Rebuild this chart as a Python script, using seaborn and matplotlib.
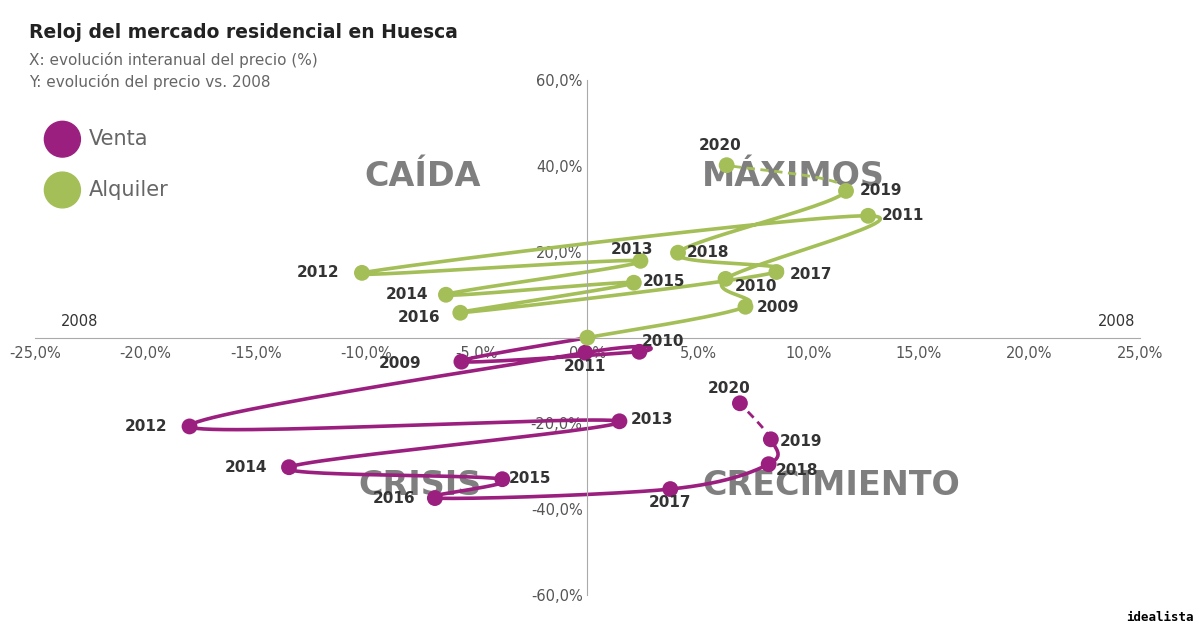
import numpy as np
import matplotlib
matplotlib.use("Agg")
import matplotlib.pyplot as plt
import seaborn as sns
import pandas as pd

years = list(range(2008, 2021))
venta_x = [0, -5.7, 2.35, -0.1, -18.0, 1.45, -13.5, -3.85, -6.9, 3.75, 8.2, 8.3, 6.9]
venta_y = [0, -5.6, -3.3, -3.5, -20.7, -19.5, -30.2, -33.0, -37.4, -35.3, -29.5, -23.7, -15.3]
alq_x = [0, 7.15, 6.25, 12.7, -10.2, 2.4, -6.4, 2.1, -5.75, 8.55, 4.1, 11.7, 6.3]
alq_y = [0, 7.2, 13.7, 28.4, 15.1, 17.9, 10.0, 12.8, 5.8, 15.3, 19.8, 34.2, 40.2]
xticks = [-25, -20, -15, -10, -5, 0, 5, 10, 15, 20, 25]
yticks = [-60, -40, -20, 20, 40, 60]

PURPLE = "#9b1f7f"
GREEN = "#a4bf57"

def catmull(xs, ys, n=30):
    P = np.column_stack([xs, ys]).astype(float)
    P = np.vstack([P[0], P, P[-1]])
    out = []
    for i in range(1, len(P) - 2):
        p0, p1, p2, p3 = P[i-1], P[i], P[i+1], P[i+2]
        t = np.linspace(0, 1, n)[:, None]
        seg = 0.5 * ((2*p1) + (-p0+p2)*t + (2*p0-5*p1+4*p2-p3)*t**2 + (-p0+3*p1-3*p2+p3)*t**3)
        out.append(seg)
    return out

fig = plt.figure(figsize=(12, 6.27), dpi=100)
ax = fig.add_axes([0.029, 0.051, 0.921, 0.821])
ax.set_xlim(-25, 25)
ax.set_ylim(-60, 60)

for xs, ys, col, skip in [(venta_x, venta_y, PURPLE, 1), (alq_x, alq_y, GREEN, 0)]:
    segs = catmull(xs, ys)
    solid = np.vstack(segs[:-1])
    ax.plot(solid[:, 0], solid[:, 1], color=col, lw=2.6, solid_capstyle="round", zorder=2)
    ax.plot(segs[-1][:, 0], segs[-1][:, 1], color=col, lw=2.0, ls=(0, (3, 2)), zorder=2)
    df = pd.DataFrame({"x": xs[skip:], "y": ys[skip:]})
    sns.scatterplot(data=df, x="x", y="y", color=col, s=130, edgecolor="none", ax=ax, zorder=3)

v_off = {2009: (-1.8, -0.5, "right"), 2010: (0.1, 2.4, "left"), 2011: (0.0, -3.2, "center"),
         2012: (-1.0, 0, "right"), 2013: (0.5, 0.5, "left"), 2014: (-1.0, 0, "right"),
         2015: (0.3, 0.2, "left"), 2016: (-0.9, -0.2, "right"), 2017: (0.0, -3.2, "center"),
         2018: (0.3, -1.5, "left"), 2019: (0.4, -0.4, "left"), 2020: (-0.5, 3.5, "center")}
a_off = {2009: (0.5, -0.2, "left"), 2010: (0.4, -1.8, "left"), 2011: (0.6, 0, "left"),
         2012: (-1.0, 0, "right"), 2013: (-0.4, 2.6, "center"), 2014: (-0.8, 0, "right"),
         2015: (0.4, 0.2, "left"), 2016: (-0.9, -1.0, "right"), 2017: (0.6, -0.5, "left"),
         2018: (0.4, 0, "left"), 2019: (0.6, 0, "left"), 2020: (-0.3, 4.5, "center")}
for i, yr in enumerate(years[1:], start=1):
    dx, dy, ha = v_off[yr]
    ax.text(venta_x[i]+dx, venta_y[i]+dy, str(yr), ha=ha, va="center", fontsize=11, fontweight="bold", color="#333333", zorder=4)
    dx, dy, ha = a_off[yr]
    ax.text(alq_x[i]+dx, alq_y[i]+dy, str(yr), ha=ha, va="center", fontsize=11, fontweight="bold", color="#333333", zorder=4)

for s in ["top", "right"]:
    ax.spines[s].set_visible(False)
ax.spines["left"].set_position(("data", 0))
ax.spines["bottom"].set_position(("data", 0))
for s in ["left", "bottom"]:
    ax.spines[s].set_color("#aaaaaa")
ax.tick_params(length=0, labelsize=10.5, colors="#555555")
ax.set_xticks(xticks)
ax.set_xticklabels([f"{v:.1f}%".replace(".", ",") for v in xticks])
ax.set_yticks(yticks)
ax.set_yticklabels([f"{v:.1f}%".replace(".", ",") for v in yticks])
ax.tick_params(axis="x", pad=6)
ax.set_xlabel(""); ax.set_ylabel("")
ax.text(-23.8, 2.8, "2008", fontsize=10.5, color="#333333")
ax.text(24.8, 2.8, "2008", fontsize=10.5, color="#333333", ha="right")

qkw = dict(fontsize=24, fontweight="bold", color="#7f7f7f", va="center", zorder=1)
ax.text(-4.8, 37.5, "CAÍDA", ha="right", **qkw)
ax.text(5.2, 37.5, "MÁXIMOS", ha="left", **qkw)
ax.text(-4.8, -34.5, "CRISIS", ha="right", **qkw)
ax.text(5.2, -34.5, "CRECIMIENTO", ha="left", **qkw)

fig.text(0.024, 0.94, "Reloj del mercado residencial en Huesca", fontsize=13.5, fontweight="bold", color="#222222")
fig.text(0.024, 0.896, "X: evolución interanual del precio (%)", fontsize=11, color="#666666")
fig.text(0.024, 0.862, "Y: evolución del precio vs. 2008", fontsize=11, color="#666666")

fig.patches.append(matplotlib.patches.Ellipse((0.052, 0.778), 0.03, 0.057, transform=fig.transFigure, color=PURPLE))
fig.patches.append(matplotlib.patches.Ellipse((0.052, 0.697), 0.03, 0.057, transform=fig.transFigure, color=GREEN))
fig.text(0.074, 0.778, "Venta", fontsize=15, color="#666666", va="center")
fig.text(0.074, 0.697, "Alquiler", fontsize=15, color="#666666", va="center")
fig.text(0.995, 0.01, "idealista", fontsize=9, family="DejaVu Sans Mono", fontweight="bold", ha="right")

fig.savefig("out.png", dpi=100)
